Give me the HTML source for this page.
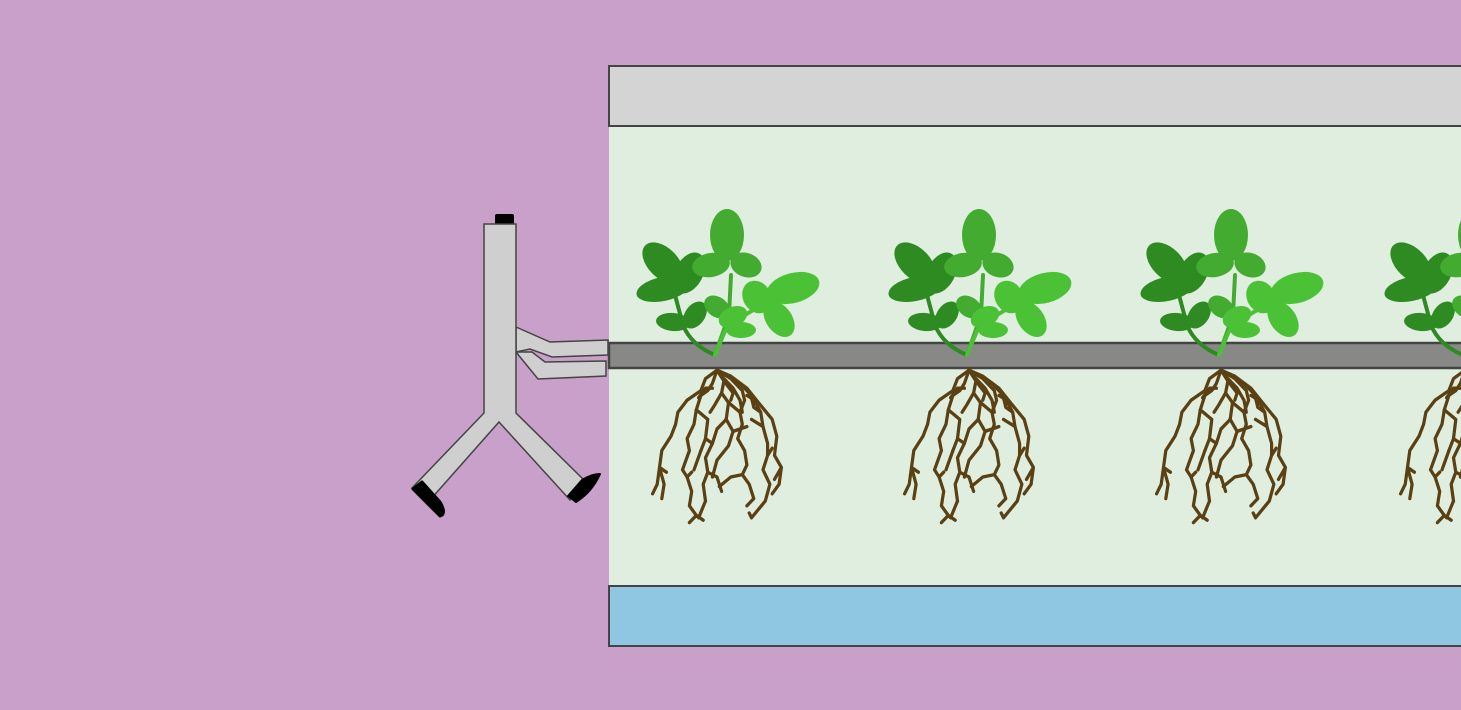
<!DOCTYPE html>
<html><head><meta charset="utf-8"><style>
html,body{margin:0;padding:0;background:#c8a0c9;}
svg{display:block}
</style></head><body>
<svg width="1461" height="710" viewBox="0 0 1461 710">
<rect x="0" y="0" width="1461" height="710" fill="#c8a0c9"/>
<g>
<rect x="609" y="126" width="860" height="460" fill="#e0eedf"/>
<rect x="609" y="66" width="860" height="60" fill="#d4d4d4" stroke="#444" stroke-width="2"/>
<rect x="609" y="586" width="860" height="60" fill="#8fc6e2" stroke="#444" stroke-width="2"/>
<rect x="609" y="343" width="860" height="25" fill="#888886" stroke="#444" stroke-width="2.5"/>
</g>
<g id="plants"></g>
<g>
<rect x="495" y="214" width="19" height="12" rx="2" fill="#000"/>
<polygon points="516,327 550,342 608,340 608,355 552,357 530,349 516,352" fill="#cfcfcf" stroke="#444" stroke-width="1.5"/>
<polygon points="516,352 538,379 606,376 606,361 545,362 532,352" fill="#cfcfcf" stroke="#444" stroke-width="1.5"/>
<polygon points="484,224 516,224 516,413 588,484 570,500 499,422 430,500 412,488 484,413" fill="#cfcfcf" stroke="#444" stroke-width="1.5"/>
<path d="M413,489 L422,482 L440,502 Q447,514 440,516 Z" fill="#000" stroke="#000" stroke-width="3" stroke-linejoin="round"/>
<path d="M568,496 L576,502 Q592,492 600,474 Q592,474 582,480 Z" fill="#000" stroke="#000" stroke-width="2" stroke-linejoin="round"/>
</g>
<defs>
<g id="plant">
<g fill="none" stroke="#5a4012" stroke-width="2.8" stroke-linecap="round" stroke-linejoin="round" transform="translate(0,14) scale(1.15,1.2) translate(0,-14)">
<path d="M0,15 L-10,22 L-14,32 L-26,40 L-34,50 L-36,60 L-40,70 L-48,82 L-50,96 L-52,110 L-56,118 M-50,96 L-46,110 L-48,122 M-50,96 L-44,100"/>
<path d="M0,15 L-4,26 L-8,32 L-14,36 L-18,48 L-20,60 L-26,72 L-24,82 L-30,98 L-26,104 L-22,116 L-24,128 L-18,136 M-26,104 L-22,100 M-18,136 L-24,142 M-18,136 L-12,140"/>
<path d="M-18,48 L-8,56 L-10,72 L-14,82 M-10,72 L-4,76"/>
<path d="M0,15 L6,24 L4,34 L10,42 L8,56 L0,64 L-4,76 L-10,88 L-8,100 L-12,110 L-10,124 M-8,100 L0,104 L4,116 M-14,82 L-20,98"/>
<path d="M-4,30 L-10,30 L-16,38 M4,34 L-2,44 L-6,50 M8,56 L14,66 L10,78 L0,90 L-4,104"/>
<path d="M0,15 L12,22 L22,32 L24,40 L20,50 L22,60 L18,72 L24,82 L26,94 L22,102 L28,110 L32,122 L26,128 M22,102 L12,104 L2,112"/>
<path d="M10,42 L20,50 M6,24 L14,34 L12,40"/>
<path d="M0,15 L20,26 L30,36 L38,50 L40,62 L44,76 L44,86 L40,98 L46,110 L42,124 L30,138 L28,134 M38,50 L32,46 L30,38 M44,86 L48,80 M40,62 L30,56"/>
<path d="M0,15 L12,20 L26,30 L36,42 L48,56 L52,70 L50,86 L56,96 L54,110 L48,118 M56,96 L50,106 M36,42 L26,36"/>
<path d="M0,15 L4,20 L14,30 L20,40 L22,50 M14,66 L26,62 M-10,124 L-16,138"/>
</g>
<g stroke-linecap="round" fill="none">
<path d="M-2,0 Q-26,-10 -34,-30 L-42,-60" stroke="#2e8b22" stroke-width="4"/>
<path d="M-2,0 L12,-40 L14,-80" stroke="#42ab30" stroke-width="4"/>
<path d="M-2,0 L8,-24 Q20,-36 38,-46" stroke="#4bc236" stroke-width="4"/>
</g>
<g fill="#2e8b22">
<ellipse cx="-54" cy="-92" rx="25" ry="15" transform="rotate(45 -54 -92)"/>
<ellipse cx="-54" cy="-66" rx="27" ry="12" transform="rotate(-12 -54 -66)"/>
<ellipse cx="-28" cy="-82" rx="14" ry="22" transform="rotate(28 -28 -82)"/>
<ellipse cx="-44" cy="-33" rx="17" ry="9" transform="rotate(5 -44 -33)"/>
<ellipse cx="-22" cy="-40" rx="10" ry="15" transform="rotate(35 -22 -40)"/>
</g>
<g fill="#42ab30">
<ellipse cx="10" cy="-120" rx="17" ry="26"/>
<ellipse cx="-6" cy="-90" rx="19" ry="12" transform="rotate(-10 -6 -90)"/>
<ellipse cx="29" cy="-90" rx="16" ry="12" transform="rotate(20 29 -90)"/>
<ellipse cx="0" cy="-48" rx="14" ry="10" transform="rotate(35 0 -48)"/>
</g>
<g fill="#4bc236">
<ellipse cx="76" cy="-67" rx="27" ry="15" transform="rotate(-15 76 -67)"/>
<ellipse cx="62" cy="-36" rx="13" ry="20" transform="rotate(-35 62 -36)"/>
<ellipse cx="40" cy="-58" rx="14" ry="17" transform="rotate(-30 40 -58)"/>
<ellipse cx="16" cy="-38" rx="15" ry="10" transform="rotate(-25 16 -38)"/>
<ellipse cx="24" cy="-25" rx="15" ry="8"/>
</g>
</g>
</defs>
<script>
const plantCenters=[717,969,1221,1465];
const g=document.getElementById('plants');
plantCenters.forEach((x,i)=>{
  const u=document.createElementNS('http://www.w3.org/2000/svg','use');
  u.setAttribute('href','#plant');
  u.setAttribute('transform','translate('+x+',355)');
  
  
  g.appendChild(u);
});
</script>
</svg>
</body></html>
